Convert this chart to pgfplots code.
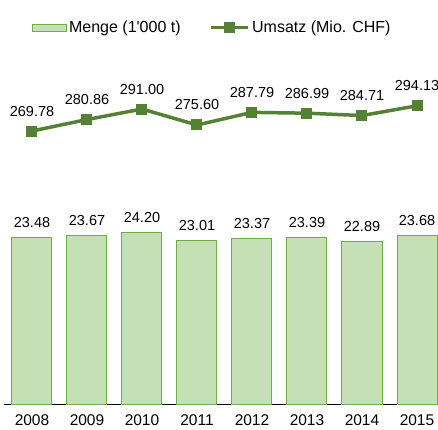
\documentclass[border=0pt]{standalone}
\usepackage{pgfplots}
\pgfplotsset{compat=1.18}
\usepackage{fontspec}
\setmainfont{Liberation Sans}
\newfontfamily\plainfont{Liberation Sans}
\definecolor{barfill}{HTML}{C5E0B4}
\definecolor{bardraw}{HTML}{70AD47}
\definecolor{linec}{HTML}{548235}
\pgfplotsset{
  barleg/.style={legend image code/.code={\draw[##1] (0bp,-3.5bp) rectangle (34bp,3.5bp);}},
  lineleg/.style={legend image code/.code={\draw[mark repeat=2,mark phase=2,##1] plot coordinates {(0bp,0bp) (18.5bp,0bp) (37bp,0bp)};}},
  common/.style={
    at={(4bp,26bp)}, anchor=south west,
    scale only axis, width=434bp, height=344bp,
    xmin=-0.509, xmax=7.382,
    clip=false,
    /pgf/number format/.cd, fixed, fixed zerofill, precision=2, assume math mode=true,
    /pgfplots/.cd,
  }
}
\begin{document}
\begin{tikzpicture}
\useasboundingbox (0,0) rectangle (438bp,430bp);
\begin{axis}[common,
  ymin=0, ymax=48.45,
  axis x line*=bottom, hide y axis,
  axis line style={black, line width=0.9bp, -},
  xtick={0,...,7}, xticklabels={2008,2009,2010,2011,2012,2013,2014,2015},
  major tick length=0pt,
  xticklabel style={font=\plainfont\fontsize{15.5bp}{18bp}\selectfont, yshift=-7bp},
  ybar, bar width=40bp,
  nodes near coords,
  every node near coord/.append style={font=\plainfont\fontsize{14.5bp}{17bp}\selectfont, anchor=base, inner sep=0pt, yshift=10bp, black},
]
\addplot[fill=barfill, draw=bardraw, line width=1bp] coordinates {
(0,23.48) (1,23.67) (2,24.20) (3,23.01) (4,23.37) (5,23.39) (6,22.89) (7,23.68)};
\end{axis}
\begin{axis}[common,
  ymin=6.5, ymax=338.3,
  hide axis,
  legend style={at={(0.48,1.094)}, anchor=center, draw=none, fill=none,
    legend columns=2, font=\plainfont\fontsize{16bp}{18bp}\selectfont,
    /tikz/every even column/.append style={column sep=27bp}},
  nodes near coords,
  every node near coord/.append style={font=\plainfont\fontsize{14.5bp}{17bp}\selectfont, anchor=base, inner sep=0pt, yshift=15bp, black},
]
\addlegendimage{fill=barfill, draw=bardraw, line width=1bp, barleg}
\addlegendentry{Menge (1'000 t)}
\addplot[color=linec, line width=3.5bp, mark=square*, mark size=5bp,
  mark options={line width=0pt}, lineleg]
 coordinates {
(0,269.78) (1,280.86) (2,291.00) (3,275.60) (4,287.79) (5,286.99) (6,284.71) (7,294.13)};
\addlegendentry{Umsatz (Mio. CHF)}
\end{axis}
\end{tikzpicture}
\end{document}
